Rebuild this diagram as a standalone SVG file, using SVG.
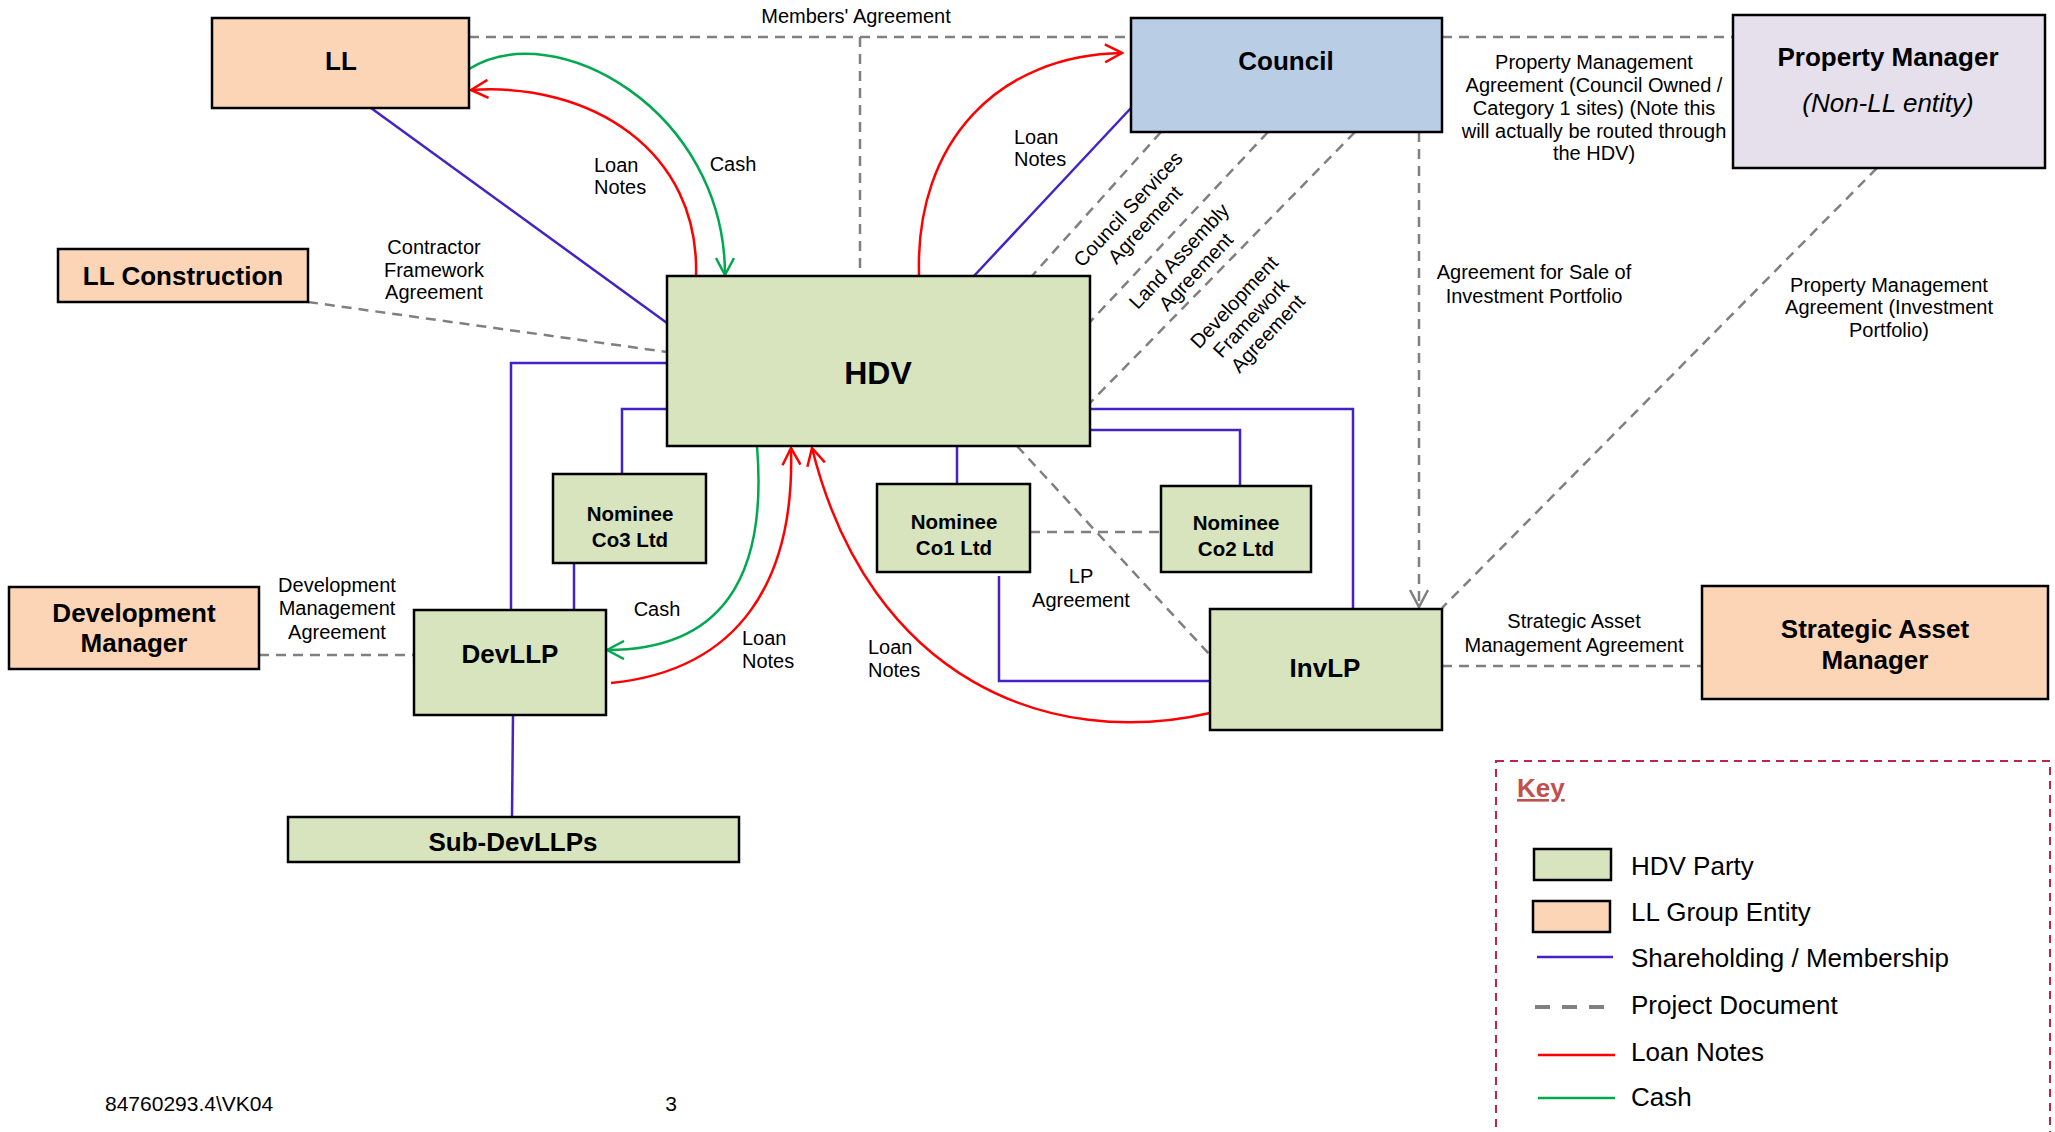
<svg xmlns="http://www.w3.org/2000/svg" width="2055" height="1132" viewBox="0 0 2055 1132">
<style>
text { font-family: "Liberation Sans", Arial, sans-serif; fill: #000; }
.nt { font-size: 26px; font-weight: bold; text-anchor: middle; }
.lb { font-size: 20px; }
.c { text-anchor: middle; }
.box { stroke: #000; stroke-width: 2.5; }
.g { fill: #D7E4BD; }
.o { fill: #FBD5B5; }
.b { fill: #B9CDE5; }
.p { fill: #E5E0EC; }
.doc { fill: none; stroke: #808080; stroke-width: 2.5; stroke-dasharray: 10 7; }
.own { fill: none; stroke: #4522C4; stroke-width: 2.5; }
.loan { fill: none; stroke: #FF0000; stroke-width: 2.5; }
.cash { fill: none; stroke: #00A94F; stroke-width: 2.5; }
.key { font-size: 26px; }
.nom { font-size: 20.5px; }
</style>
<defs>
<marker id="aRed" viewBox="0 0 20 20" refX="18" refY="10" markerWidth="20" markerHeight="20" markerUnits="userSpaceOnUse" orient="auto">
<path d="M1,1 L18,10 L1,19" fill="none" stroke="#FF0000" stroke-width="2.5"/>
</marker>
<marker id="aGreen" viewBox="0 0 20 20" refX="18" refY="10" markerWidth="20" markerHeight="20" markerUnits="userSpaceOnUse" orient="auto">
<path d="M1,1 L18,10 L1,19" fill="none" stroke="#00A94F" stroke-width="2.5"/>
</marker>
<marker id="aGray" viewBox="0 0 20 20" refX="18" refY="10" markerWidth="20" markerHeight="20" markerUnits="userSpaceOnUse" orient="auto">
<path d="M1,1 L18,10 L1,19" fill="none" stroke="#808080" stroke-width="2.5"/>
</marker>
</defs>
<rect width="2055" height="1132" fill="#fff"/>

<g id="connectors">
<path class="doc" d="M469 37 H1131"/>
<path class="doc" d="M860 37 V277"/>
<path class="doc" d="M1442 37 H1733"/>
<path class="doc" d="M1419 132 V607" marker-end="url(#aGray)"/>
<path class="doc" d="M1877 168 L1442 608"/>
<path class="doc" d="M1442 666 H1702"/>
<path class="doc" d="M308 302 L667 352"/>
<path class="doc" d="M1161 132 L1031 277"/>
<path class="doc" d="M1268 132 L1090 322"/>
<path class="doc" d="M1355 132 L1090 403"/>
<path class="doc" d="M1017 446 L1210 655"/>
<path class="doc" d="M1030 532 H1161"/>
<path class="doc" d="M259 655 H414"/>

<path class="own" d="M371 108 L667 323"/>
<path class="own" d="M1131 108 L973 277"/>
<path class="own" d="M667 409 H622 V474"/>
<path class="own" d="M667 363 H511 V610"/>
<path class="own" d="M574 563 V610"/>
<path class="own" d="M513 715 L512 817"/>
<path class="own" d="M957 446 V484"/>
<path class="own" d="M1090 430 H1240 V486"/>
<path class="own" d="M1090 409 H1353 V609"/>
<path class="own" d="M999 576 V681 H1210"/>

<path class="loan" d="M696 276 C700 150 590 82 471 90" marker-end="url(#aRed)"/>
<path class="loan" d="M919 275 C915 140 1000 55 1122 53" marker-end="url(#aRed)"/>
<path class="loan" d="M611 683 C740 670 795 580 791 448" marker-end="url(#aRed)"/>
<path class="loan" d="M1210 713 C1050 750 870 680 812 448" marker-end="url(#aRed)"/>

<path class="cash" d="M469 69 C555 15 725 110 725 275" marker-end="url(#aGreen)"/>
<path class="cash" d="M757 446 C768 580 720 650 607 650" marker-end="url(#aGreen)"/>

<text class="lb c" x="856" y="23">Members' Agreement</text>
<text class="lb c"><tspan x="434" y="254">Contractor</tspan><tspan x="434" y="277">Framework</tspan><tspan x="434" y="299">Agreement</tspan></text>
<text class="lb"><tspan x="594" y="172">Loan</tspan><tspan x="594" y="194">Notes</tspan></text>
<text class="lb c" x="733" y="171">Cash</text>
<text class="lb"><tspan x="1014" y="144">Loan</tspan><tspan x="1014" y="166">Notes</tspan></text>
<text class="lb c" transform="translate(1128 209) rotate(-47)"><tspan x="0" y="7">Council Services</tspan><tspan x="0" y="30">Agreement</tspan></text>
<text class="lb c" transform="translate(1179 256) rotate(-47)"><tspan x="0" y="7">Land Assembly</tspan><tspan x="0" y="30">Agreement</tspan></text>
<text class="lb c" transform="translate(1234 302) rotate(-47)"><tspan x="0" y="7">Development</tspan><tspan x="0" y="30">Framework</tspan><tspan x="0" y="53">Agreement</tspan></text>
<text class="lb c"><tspan x="1594" y="69">Property Management</tspan><tspan x="1594" y="92">Agreement (Council Owned /</tspan><tspan x="1594" y="115">Category 1 sites) (Note this</tspan><tspan x="1594" y="138">will actually be routed through</tspan><tspan x="1594" y="160">the HDV)</tspan></text>
<text class="lb c"><tspan x="1534" y="279">Agreement for Sale of</tspan><tspan x="1534" y="303">Investment Portfolio</tspan></text>
<text class="lb c"><tspan x="1889" y="292">Property Management</tspan><tspan x="1889" y="314">Agreement (Investment</tspan><tspan x="1889" y="337">Portfolio)</tspan></text>
<text class="lb c"><tspan x="1574" y="628">Strategic Asset</tspan><tspan x="1574" y="652">Management Agreement</tspan></text>
<text class="lb c"><tspan x="1081" y="583">LP</tspan><tspan x="1081" y="607">Agreement</tspan></text>
<text class="lb c"><tspan x="337" y="592">Development</tspan><tspan x="337" y="615">Management</tspan><tspan x="337" y="639">Agreement</tspan></text>
<text class="lb c" x="657" y="616">Cash</text>
<text class="lb"><tspan x="742" y="645">Loan</tspan><tspan x="742" y="668">Notes</tspan></text>
<text class="lb"><tspan x="868" y="654">Loan</tspan><tspan x="868" y="677">Notes</tspan></text>
</g>

<g id="node-ll"><rect class="box o" x="212" y="18" width="257" height="90"/><text class="nt" x="341" y="70">LL</text></g>
<g id="node-llconstruction"><rect class="box o" x="58" y="249" width="250" height="53"/><text class="nt" x="183" y="285">LL Construction</text></g>
<g id="node-council"><rect class="box b" x="1131" y="18" width="311" height="114"/><text class="nt" x="1286" y="70">Council</text></g>
<g id="node-propertymanager"><rect class="box p" x="1733" y="15" width="312" height="153"/><text class="nt" x="1888" y="66">Property Manager</text><text x="1888" y="112" font-size="26" font-style="italic" text-anchor="middle">(Non-LL entity)</text></g>
<g id="node-hdv"><rect class="box g" x="667" y="276" width="423" height="170"/><text class="nt" x="878" y="384" style="font-size:32px">HDV</text></g>
<g id="node-nominee3"><rect class="box g" x="553" y="474" width="153" height="89"/><text class="nt nom" x="630" y="521">Nominee</text><text class="nt nom" x="630" y="547">Co3 Ltd</text></g>
<g id="node-nominee1"><rect class="box g" x="877" y="484" width="153" height="88"/><text class="nt nom" x="954" y="529">Nominee</text><text class="nt nom" x="954" y="555">Co1 Ltd</text></g>
<g id="node-nominee2"><rect class="box g" x="1161" y="486" width="150" height="86"/><text class="nt nom" x="1236" y="530">Nominee</text><text class="nt nom" x="1236" y="556">Co2 Ltd</text></g>
<g id="node-devmanager"><rect class="box o" x="9" y="587" width="250" height="82"/><text class="nt"><tspan x="134" y="622">Development</tspan><tspan x="134" y="652">Manager</tspan></text></g>
<g id="node-devllp"><rect class="box g" x="414" y="610" width="192" height="105"/><text class="nt" x="510" y="663">DevLLP</text></g>
<g id="node-invlp"><rect class="box g" x="1210" y="609" width="232" height="121"/><text class="nt" x="1325" y="677">InvLP</text></g>
<g id="node-sam"><rect class="box o" x="1702" y="586" width="346" height="113"/><text class="nt"><tspan x="1875" y="638">Strategic Asset</tspan><tspan x="1875" y="669">Manager</tspan></text></g>
<g id="node-subdevllps"><rect class="box g" x="288" y="817" width="451" height="45"/><text class="nt" x="513" y="851">Sub-DevLLPs</text></g>

<g id="key">
<rect x="1496" y="761" width="554" height="420" fill="none" stroke="#C0244C" stroke-width="2" stroke-dasharray="8 6"/>
<text x="1517" y="797" font-size="26" font-weight="bold" style="fill:#C0504D" text-decoration="underline">Key</text>
<rect class="box g" x="1534" y="849" width="77" height="31"/>
<text class="key" x="1631" y="875">HDV Party</text>
<rect class="box o" x="1533" y="901" width="77" height="31"/>
<text class="key" x="1631" y="921">LL Group Entity</text>
<path class="own" d="M1537 957 H1613"/>
<text class="key" x="1631" y="967">Shareholding / Membership</text>
<path d="M1535 1007 H1607" fill="none" stroke="#808080" stroke-width="4" stroke-dasharray="15 12"/>
<text class="key" x="1631" y="1014">Project Document</text>
<path class="loan" d="M1538 1055 H1615"/>
<text class="key" x="1631" y="1061">Loan Notes</text>
<path class="cash" d="M1538 1098 H1615"/>
<text class="key" x="1631" y="1106">Cash</text>
</g>

<text x="105" y="1111" font-size="21">84760293.4\VK04</text>
<text x="671" y="1111" font-size="21" text-anchor="middle">3</text>
</svg>
